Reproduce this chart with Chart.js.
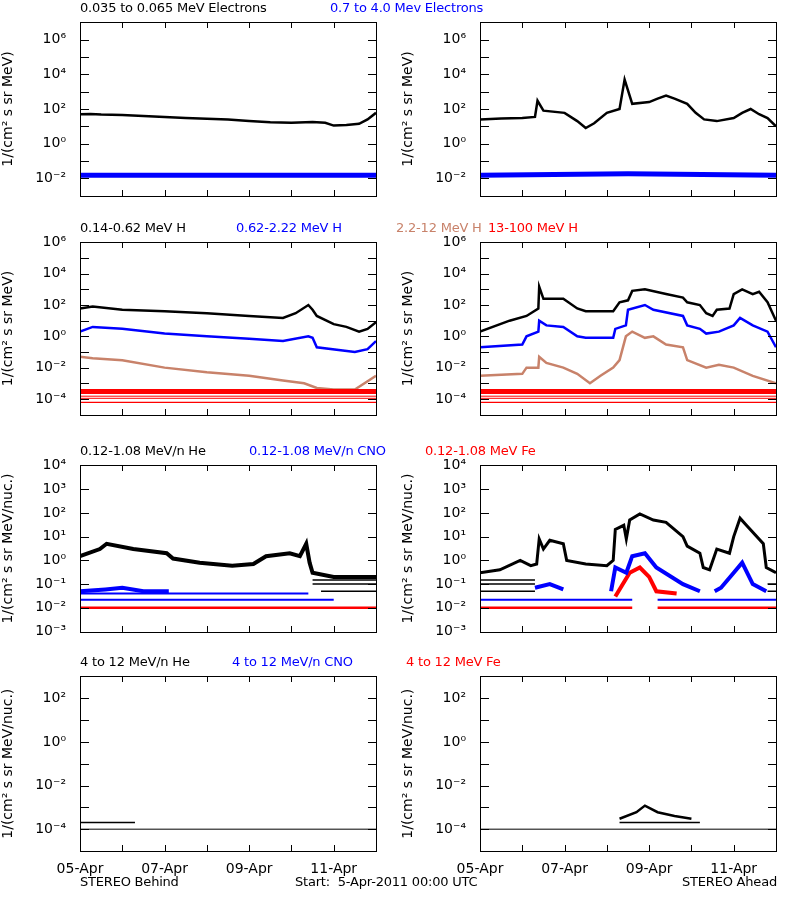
<!DOCTYPE html>
<html><head><meta charset="utf-8">
<script src="https://cdn.jsdelivr.net/npm/chart.js@4"></script>
<style>
body{margin:0;background:#fff;width:800px;height:900px;position:relative;overflow:hidden;font-family:"DejaVu Sans",sans-serif;}
canvas{position:absolute;}
.t{position:absolute;font-size:13px;white-space:pre;letter-spacing:-0.2px;}
</style></head><body>
<script>
// ---- tick labels / axes ----
const dayLabels = ['05-Apr','','07-Apr','','09-Apr','','11-Apr',''];
const row1Range = [-3, 7], row2Range = [-5, 6], row3Range = [-3, 4], row4Range = [-5, 3];
const titles = [
 [['0.035 to 0.065 MeV Electrons','#000',80],['0.7 to 4.0 Mev Electrons','#0000ff',330]],
 [['0.14-0.62 MeV H','#000',80],['0.62-2.22 MeV H','#0000ff',236],['2.2-12 MeV H','#c8826a',396],['13-100 MeV H','#ff0000',488]],
 [['0.12-1.08 MeV/n He','#000',80],['0.12-1.08 MeV/n CNO','#0000ff',249],['0.12-1.08 MeV Fe','#ff0000',425]],
 [['4 to 12 MeV/n He','#000',80],['4 to 12 MeV/n CNO','#0000ff',232],['4 to 12 MeV Fe','#ff0000',406]]
];
// ---- data: [day since 05-Apr 00:00, flux] ----
const r1L_black = [[0,50],[0.25,52],[0.5,48],[1,45],[1.5,40],[2,35],[2.5,30],[3,27],[3.5,25],[4,20],[4.5,17],[5,16],[5.5,18],[5.8,16],[6,11],[6.3,12],[6.6,14],[6.8,25],[7,60]];
const r1L_blue = [[0,0.015],[7,0.015]];
const r1R_black = [[0,25],[0.5,28],[1,30],[1.3,35],[1.36,300],[1.5,80],[2,60],[2.3,20],[2.5,8],[2.7,15],[3,60],[3.3,100],[3.42,5000],[3.6,200],[4,250],[4.2,400],[4.4,600],[4.6,400],[4.9,200],[5.1,60],[5.3,25],[5.6,20],[6,30],[6.2,60],[6.4,100],[6.6,50],[6.8,30],[7,10]];
const r1R_blue = [[0,0.015],[3.5,0.018],[7,0.015]];
const r2L_black = [[0,60],[0.3,80],[1,50],[2,40],[3,30],[4,20],[4.8,15],[5.1,30],[5.4,100],[5.5,50],[5.6,20],[6,6],[6.3,4],[6.6,2],[6.8,3],[7,8]];
const r2L_blue = [[0,2],[0.3,4],[1,3],[2,1.5],[3,1],[4,0.7],[4.8,0.5],[5.4,1],[5.5,0.8],[5.6,0.2],[6.5,0.1],[6.8,0.15],[7,0.5]];
const r2L_brown = [[0,0.05],[0.3,0.04],[1,0.03],[2,0.01],[3,0.005],[4,0.003],[4.8,0.0015],[5.3,0.001],[5.6,0.0005],[6,0.0004],[6.5,0.0004],[7,0.003]];
const r2R_black = [[0,2],[0.7,10],[1.1,20],[1.38,60],[1.4,1500],[1.5,250],[1.97,250],[2.3,60],[2.5,40],[3.15,40],[3.3,150],[3.5,200],[3.6,800],[3.9,1000],[4.4,500],[4.8,300],[4.9,150],[5.2,100],[5.35,30],[5.5,20],[5.6,50],[5.9,60],[6.0,500],[6.2,1000],[6.45,500],[6.6,700],[6.8,150],[7,10]];
const r2R_blue = [[0,0.2],[1.0,0.3],[1.1,1],[1.38,2],[1.4,10],[1.57,5],[1.97,4],[2.3,1],[2.5,0.8],[3.15,0.8],[3.2,3],[3.45,5],[3.5,50],[3.9,100],[4.1,50],[4.8,20],[4.9,5],[5.2,3],[5.35,1.5],[5.65,2],[6.0,5],[6.15,15],[6.45,5],[6.8,2],[7,0.2]];
const r2R_brown = [[0,0.003],[1.0,0.004],[1.1,0.01],[1.38,0.01],[1.4,0.05],[1.57,0.02],[1.97,0.01],[2.3,0.004],[2.6,0.001],[2.85,0.003],[3.15,0.01],[3.3,0.03],[3.45,1],[3.6,2],[3.9,0.8],[4.1,1],[4.4,0.3],[4.8,0.2],[4.9,0.03],[5.35,0.01],[5.65,0.015],[6.0,0.01],[6.45,0.003],[7,0.001]];
const r2_redBand = [[0,0.0003],[7,0.0003]];
const r2_redLow1 = [[0,0.00015],[7,0.00015]];
const r2_redLow2 = [[0,0.00011],[7,0.00011]];
const r2_redLow3 = [[0,0.00006],[7,0.00006]];
const r3L_black = [[0,1.5],[0.47,3],[0.63,5],[1.26,3],[2.05,2],[2.2,1.2],[2.83,0.8],[3.6,0.6],[4.1,0.7],[4.4,1.5],[4.96,2],[5.2,1.5],[5.35,5],[5.43,0.8],[5.5,0.3],[6,0.2],[7,0.2]];
const r3L_blackLines = [[[5.5,0.15],[7,0.15]],[[5.5,0.1],[7,0.1]],[[5.7,0.05],[7,0.05]]];
const r3L_blue = [[0,0.05],[0.6,0.06],[1.0,0.07],[1.5,0.05],[2.1,0.05]];
const r3L_blueLines = [[[0,0.04],[5.4,0.04]],[[0,0.022],[6.0,0.022]]];
const r3L_red = [[0,0.01],[7,0.01]];
const r3R_black = [[0,0.3],[0.47,0.4],[0.95,1],[1.2,0.6],[1.34,0.7],[1.4,8],[1.5,3],[1.65,7],[1.97,5],[2.05,1],[2.5,0.7],[3.0,0.6],[3.15,1],[3.2,20],[3.4,30],[3.46,8],[3.54,50],[3.78,90],[4.1,50],[4.4,40],[4.8,10],[4.9,4],[5.2,2],[5.28,0.5],[5.43,0.4],[5.6,3],[5.9,2],[6.0,10],[6.15,60],[6.3,30],[6.7,5],[6.77,0.5],[7,0.3]];
const r3R_blackLines = [[[0,0.15],[1.3,0.15]],[[0,0.1],[1.3,0.1]],[[0,0.05],[1.3,0.05]],[[6.8,0.1],[7,0.1]],[[6.8,0.05],[7,0.05]]];
const r3R_blue = [[3.1,0.05],[3.2,0.5],[3.46,0.3],[3.6,1.5],[3.9,2],[4.17,0.5],[4.8,0.1],[5.2,0.05]];
const r3R_blue2 = [[1.3,0.07],[1.65,0.1],[1.97,0.06]];
const r3R_blue3 = [[5.55,0.05],[5.7,0.07],[6.0,0.3],[6.2,0.8],[6.45,0.1],[6.77,0.05]];
const r3R_red = [[3.2,0.03],[3.54,0.3],[3.78,0.5],[4.0,0.2],[4.17,0.05],[4.65,0.04]];
const r3R_baseLines = [[[0,0.022],[3.6,0.022]],[[4.2,0.022],[7,0.022]]];
const r3R_redLines = [[[0,0.01],[3.6,0.01]],[[4.2,0.01],[7,0.01]]];
const r4L_black = [[0,0.0001],[7,0.0001]];
const r4L_dots = [[0,0.0002],[1.3,0.0002]];
const r4R_black = [[0,0.0001],[7,0.0001]];
const r4R_bump = [[3.3,0.0003],[3.7,0.0006],[3.9,0.0012],[4.2,0.0006],[4.6,0.0004],[5.0,0.0003]];
const r4R_bump2 = [[3.3,0.0002],[5.2,0.0002]];

const BK='#000', BL='#0000ff', BR='#c8826a', RD='#ff0000';
const panels = [
 {row:0,col:0,range:row1Range,sets:[[r1L_blue,BL,5],[r1L_black,BK,2.5]]},
 {row:0,col:1,range:row1Range,sets:[[r1R_blue,BL,5],[r1R_black,BK,2.5]]},
 {row:1,col:0,range:row2Range,sets:[[r2_redLow3,RD,1.2],[r2_redLow2,RD,1],[r2_redLow1,RD,1],[r2_redBand,RD,5],[r2L_brown,BR,2.5],[r2L_blue,BL,2.5],[r2L_black,BK,2.5]]},
 {row:1,col:1,range:row2Range,sets:[[r2_redLow3,RD,1.2],[r2_redLow2,RD,1],[r2_redLow1,RD,1],[r2_redBand,RD,5],[r2R_brown,BR,2.5],[r2R_blue,BL,2.5],[r2R_black,BK,2.5]]},
 {row:2,col:0,range:row3Range,sets:[[r3L_red,RD,2.5],...r3L_blueLines.map(d=>[d,BL,2]),[r3L_blue,BL,4],...r3L_blackLines.map(d=>[d,BK,1.5]),[r3L_black,BK,4]]},
 {row:2,col:1,range:row3Range,sets:[...r3R_redLines.map(d=>[d,RD,2.5]),...r3R_baseLines.map(d=>[d,BL,2]),[r3R_blue2,BL,4],[r3R_blue3,BL,4],[r3R_blue,BL,4],[r3R_red,RD,4],...r3R_blackLines.map(d=>[d,BK,1.5]),[r3R_black,BK,3]]},
 {row:3,col:0,range:row4Range,sets:[[r4L_black,BK,1],[r4L_dots,BK,1.5]]},
 {row:3,col:1,range:row4Range,sets:[[r4R_black,BK,1],[r4R_bump2,BK,1.5],[r4R_bump,BK,2.5]]}
];
const rowBox = [[18,200],[238,419],[461,636],[672,851]];
const colLeft = [80,480], plotW = 296, AXW = 80;
const sup = {'-':'⁻','0':'⁰','1':'¹','2':'²','3':'³','4':'⁴','5':'⁵','6':'⁶','7':'⁷','8':'⁸','9':'⁹'};
const toSup = n => String(n).split('').map(c=>sup[c]).join('');
const FONT = {family:'"DejaVu Sans", sans-serif', size:14};

const makeFrame = range => ({id:'frame', afterDatasetsDraw(ch){
  const a=ch.chartArea, c=ch.ctx; c.save(); c.fillStyle='#000';
  const L=Math.round(a.left), R=Math.round(a.right), T=Math.round(a.top), B=Math.round(a.bottom);
  c.fillRect(L,T,R-L+1,1); c.fillRect(L,B,R-L+1,1); c.fillRect(L,T,1,B-T+1); c.fillRect(R,T,1,B-T+1);
  const xs=ch.scales.x, ys=ch.scales.y;
  for(let d=0; d<=7; d++){const px=Math.round(xs.getPixelForValue(d));
    c.fillRect(px,B-6,1,6); c.fillRect(px,T,1,6);}
  for(let e=range[0]; e<=range[1]; e++){const py=Math.round(ys.getPixelForValue(Math.pow(10,e)));
    c.fillRect(L,py,9,1); c.fillRect(R-8,py,9,1);}
  c.restore();
}});

panels.forEach(p=>{
  const [top,bot] = rowBox[p.row]; const h = bot-top; const last = p.row===3;
  const cv = document.createElement('canvas');
  const W = AXW+plotW+12, H = h+10+(last?26:10);
  cv.width=W; cv.height=H; cv.style.left=(colLeft[p.col]-AXW)+'px'; cv.style.top=(top-10)+'px';
  cv.style.width=W+'px'; cv.style.height=H+'px';
  document.body.appendChild(cv);
  const every = p.row===2 ? 1 : 2;
  const ytitle = p.row<2 ? '1/(cm² s sr MeV)' : '1/(cm² s sr MeV/nuc.)';
  new Chart(cv,{type:'scatter',
    data:{datasets:p.sets.map(s=>({data:s[0].map(q=>({x:q[0],y:q[1]})),showLine:true,borderColor:s[1],backgroundColor:s[1],borderWidth:s[2],pointRadius:0,tension:0}))},
    options:{responsive:false,animation:false,devicePixelRatio:1,
      layout:{padding:{top:10,right:12,left:0,bottom:0}},
      plugins:{legend:{display:false},tooltip:{enabled:false}},
      scales:{
        x:{type:'linear',min:0,max:7,grid:{display:false},border:{display:false},
           ticks:{stepSize:1,display:last,color:'#000',font:FONT,maxRotation:0,padding:2,autoSkip:false,callback:v=>dayLabels[v]||''},
           afterFit:s=>{s.height=last?26:10;}},
        y:{type:'logarithmic',min:Math.pow(10,p.range[0]),max:Math.pow(10,p.range[1]),grid:{display:false},border:{display:false},
           title:{display:true,text:ytitle,color:'#000',font:FONT,padding:{top:0,bottom:4}},
           afterBuildTicks:s=>{const t=[];for(let e=p.range[0];e<=p.range[1];e++) t.push({value:Math.pow(10,e)}); s.ticks=t;},
           ticks:{color:'#000',font:FONT,padding:6,autoSkip:false,callback:(v)=>{const e=Math.round(Math.log10(v)); return (e%every===0)?'10'+toSup(e):'';}},
           afterFit:s=>{s.width=AXW;}}
      }},
    plugins:[makeFrame(p.range)]});
});
titles.forEach((row,r)=>row.forEach(([t,c,x])=>{const d=document.createElement('div');d.className='t';d.textContent=t;d.style.color=c;d.style.left=x+'px';d.style.top=(rowBox[r][0]-18)+'px';document.body.appendChild(d);}));
[['STEREO Behind',80],['Start:  5-Apr-2011 00:00 UTC',295],['STEREO Ahead',682]].forEach(([t,x])=>{const d=document.createElement('div');d.className='t';d.textContent=t;d.style.left=x+'px';d.style.top='874px';document.body.appendChild(d);});
</script>
</body></html>
